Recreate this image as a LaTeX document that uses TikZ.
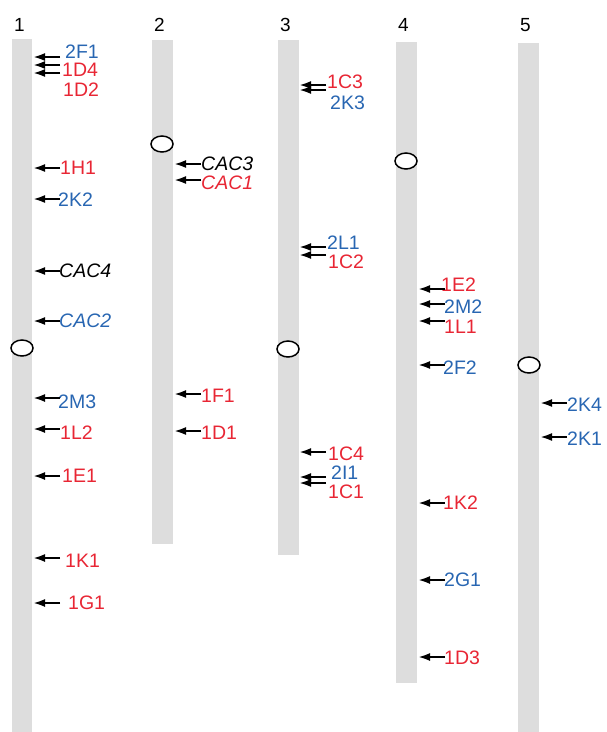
\documentclass[tikz,border=0pt]{standalone}
\usepackage{fontspec}
\setmainfont{Liberation Sans}
\usetikzlibrary{arrows.meta,shapes.geometric}
\definecolor{labred}{RGB}{232,38,52}
\definecolor{labblue}{RGB}{40,102,178}
\definecolor{bargray}{RGB}{221,221,221}
\tikzset{
  chrnum/.style={anchor=west, inner sep=0pt, font=\fontsize{19}{22}\selectfont},
  gene/.style={anchor=west, inner sep=0pt, font=\fontsize{19.5}{22}\selectfont},
  centro/.style={draw, ellipse, fill=white, line width=1.5pt, minimum width=22pt, minimum height=16pt, inner sep=0pt},
  pointer/.style={-{Latex[length=12pt,width=8pt]}, line width=2.2pt},
}
\begin{document}
\begin{tikzpicture}[x=1pt, y=-1pt]
\useasboundingbox (0,0) rectangle (606,732);
% chromosomes
\foreach \n/\xl/\xr/\top/\bot in {1/12/32/39/732, 2/152/173/40/544, 3/278/299/40/555, 4/396/417/42/683, 5/518/539/43/732}
{
    \fill[bargray] (\xl,\top) rectangle (\xr,\bot);
    \node[chrnum] (n\n) at (\xl+2,25) {\n};
}

% centromeres
\node[centro] (c1) at (22,348) {};
\node[centro] (c2) at (162,144) {};
\node[centro] (c3) at (288,349) {};
\node[centro] (c4) at (406,161) {};
\node[centro] (c5) at (529,365) {};

% markers: tip x / arrow y / label x / label y / name / text / colour
\foreach \tx/\ay/\lx/\ly/\nm/\txt/\col in {
    33/57/65/52/2F1/2F1/labblue, 33/65/62/70/1D4/1D4/labred, 33/73/63/90/1D2/1D2/labred,
    33/168/60/168/1H1/1H1/labred, 33/199/58/200/2K2/2K2/labblue,
    33/271/59/271/CAC4/\textit{CAC4}/black, 33/321/59/321/CAC2/\textit{CAC2}/labblue,
    33/398/58/402/2M3/2M3/labblue, 33/429/60/433/1L2/1L2/labred,
    33/476/62/476/1E1/1E1/labred, 33/558/65/561/1K1/1K1/labred, 33/603/68/603/1G1/1G1/labred,
    174/164/201/164/CAC3/\textit{CAC3}/black, 174/180/201/183/CAC1/\textit{CAC1}/labred,
    174/394/201/396/1F1/1F1/labred, 174/431/201/433/1D1/1D1/labred,
    299/85/327/82/1C3/1C3/labred, 299/90/330/103/2K3/2K3/labblue,
    299/247/327/243/2L1/2L1/labblue, 299/255/328/262/1C2/1C2/labred,
    299/452/328/454/1C4/1C4/labred, 299/477/331/473/2I1/2I1/labblue, 299/483/328/492/1C1/1C1/labred,
    418/289/441/285/1E2/1E2/labred, 418/304/444/307/2M2/2M2/labblue, 418/321/444/327/1L1/1L1/labred,
    418/365/443/368/2F2/2F2/labblue, 418/503/443/503/1K2/1K2/labred,
    418/580/444/580/2G1/2G1/labblue, 418/657/444/658/1D3/1D3/labred,
    540/403/567/405/2K4/2K4/labblue, 540/437/567/439/2K1/2K1/labblue}
{
    \coordinate (b\nm) at (\tx,\ay);
    \coordinate (a\nm) at (\tx+27,\ay);
    \node[gene, text=\col] (l\nm) at (\lx,\ly) {\txt};
    \draw[pointer] (a\nm) -- (b\nm);
}
\end{tikzpicture}
\end{document}
